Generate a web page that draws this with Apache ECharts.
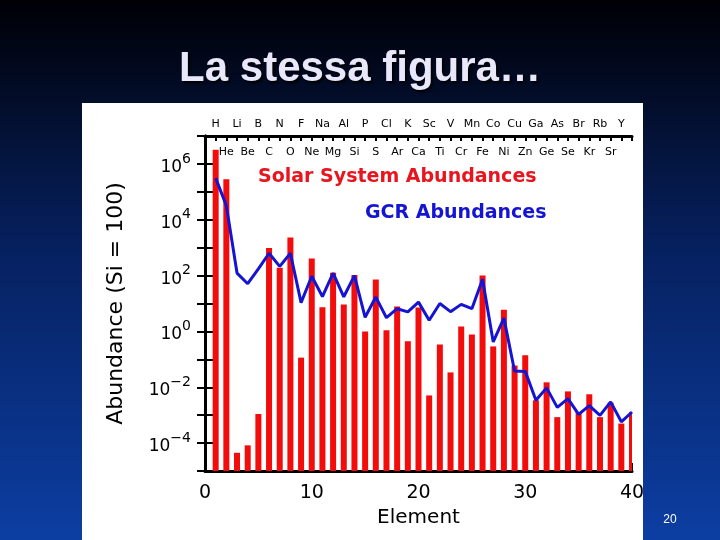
<!DOCTYPE html>
<html>
<head>
<meta charset="utf-8">
<script src="https://cdn.jsdelivr.net/npm/echarts@6/dist/echarts.min.js"></script>
<style>html,body{margin:0;padding:0;}#c{width:720px;height:540px;}</style>
</head>
<body>
<div id="c"></div>
<script>
// Atomic number Z
const elements = ['H','He','Li','Be','B','C','N','O','F','Ne','Na','Mg','Al','Si','P','S','Cl','Ar','K','Ca',
  'Sc','Ti','V','Cr','Mn','Fe','Co','Ni','Cu','Zn','Ga','Ge','As','Se','Br','Kr','Rb','Sr','Y'];
// Solar System abundances (Si = 100), Z = 1..40
const solarAbund = [3.2e6, 2.8e5, 4.5e-5, 8.3e-5, 1.1e-3, 980, 190, 2300, 0.115, 410,
  7.4, 126, 9.3, 105, 1.0, 72, 1.1, 7.8, 0.44, 7.2,
  5.1e-3, 0.34, 0.034, 1.5, 0.78, 100, 0.29, 6.0, 0.060, 0.14,
  3.4e-3, 0.015, 8.5e-4, 7.1e-3, 1.3e-3, 5.6e-3, 8.5e-4, 2.8e-3, 5.0e-4, 1.3e-3];
// Galactic cosmic ray abundances (Si = 100), Z = 1..40
const gcrAbund = [3.1e5, 3.2e4, 123, 51, 174, 630, 214, 630, 10.7, 95,
  17.8, 123, 17.4, 100, 3.2, 17, 3.1, 6.5, 5.0, 11.2,
  2.5, 10, 5.1, 9.3, 6.5, 74, 0.42, 3.0, 0.038, 0.037,
  3.4e-3, 9.5e-3, 1.9e-3, 3.9e-3, 1.07e-3, 2.2e-3, 9.8e-4, 3.0e-3, 5.8e-4, 1.3e-3];
const xTickLabels = ['0','10','20','30','40'];
const yMin = 1e-5, yMax = 1e7;

const solarData = solarAbund.map((v, i) => [i + 1, v]);
const gcrData = gcrAbund.map((v, i) => [i + 1, v]);

const FONT = 'DejaVu Sans';
const chart = echarts.init(document.getElementById('c'));

function yLabel(v) {
  const e = Math.round(Math.log10(v));
  if (e % 2 !== 0 || e < -4 || e > 6) return '';
  const es = e < 0 ? '\u2212' + Math.abs(e) : String(e);
  return '{b|10}{e|' + es + '}';
}

const option = {
  backgroundColor: {
    type: 'linear', x: 0, y: 0, x2: 0, y2: 1,
    colorStops: [
      { offset: 0, color: '#000005' },
      { offset: 0.45, color: '#06205e' },
      { offset: 1, color: '#0c3ea2' }
    ]
  },
  title: {
    text: 'La stessa figura\u2026',
    left: 'center',
    top: 43,
    textStyle: {
      color: '#e8e8fa', fontSize: 42, fontWeight: 'bold', fontFamily: 'Liberation Sans',
      textShadowColor: 'rgba(0,0,0,0.9)', textShadowBlur: 2, textShadowOffsetX: 2, textShadowOffsetY: 2
    }
  },
  graphic: [
    { type: 'rect', z: -100, shape: { x: 82, y: 103, width: 561, height: 437 }, style: { fill: '#ffffff' } },
    { type: 'text', x: 258, y: 177, style: { text: 'Solar System Abundances', fill: '#e8141e', font: 'bold 19px "DejaVu Sans"', textVerticalAlign: 'middle' } },
    { type: 'text', x: 365, y: 213, style: { text: 'GCR Abundances', fill: '#1414d2', font: 'bold 19px "DejaVu Sans"', textVerticalAlign: 'middle' } },
    { type: 'text', x: 670, y: 520, style: { text: '20', fill: '#ffffff', font: '12px "Liberation Sans"', textAlign: 'center', textVerticalAlign: 'middle' } }
  ],
  grid: { left: 205, right: 88, top: 136, bottom: 69, containLabel: false },
  xAxis: [
    {
      type: 'value', min: 0, max: 40, interval: 10, position: 'bottom',
      name: 'Element', nameLocation: 'middle', nameGap: 37,
      nameTextStyle: { fontSize: 20, color: '#000', fontFamily: FONT },
      axisLine: { lineStyle: { color: '#000', width: 3 } },
      axisTick: { inside: true, length: 8, lineStyle: { color: '#000', width: 2 } },
      minorTick: { show: true, splitNumber: 10, length: 5, lineStyle: { color: '#000', width: 2 } },
      splitLine: { show: false },
      axisLabel: { fontSize: 19, color: '#000', margin: 13, fontFamily: FONT,
        formatter: v => xTickLabels[Math.round(v / 10)] }
    },
    {
      type: 'value', min: 0, max: 40, interval: 1, position: 'top',
      axisLine: { lineStyle: { color: '#000', width: 3 } },
      axisTick: { inside: true, length: 5, lineStyle: { color: '#000', width: 2 } },
      splitLine: { show: false },
      axisLabel: { fontSize: 11, color: '#000', margin: 6, fontFamily: FONT,
        formatter: v => (v % 2 === 1 && elements[v - 1] ? elements[v - 1] : '') }
    },
    {
      type: 'value', min: 0, max: 40, interval: 1, position: 'top',
      axisLine: { show: false }, axisTick: { show: false }, splitLine: { show: false },
      axisLabel: { inside: true, fontSize: 11, color: '#000', margin: 11, fontFamily: FONT,
        formatter: v => (v % 2 === 0 && v > 0 && elements[v - 1] ? elements[v - 1] : '') }
    }
  ],
  yAxis: [
    {
      type: 'log', logBase: 10, min: yMin, max: yMax, interval: 1, splitNumber: 12, position: 'left',
      name: 'Abundance (Si = 100)', nameLocation: 'middle', nameGap: 78, nameRotate: 90,
      nameTextStyle: { fontSize: 22, color: '#000', fontFamily: FONT },
      axisLine: { show: true, lineStyle: { color: '#000', width: 3 } },
      axisTick: { show: true, inside: true, length: 8, lineStyle: { color: '#000', width: 2 } },
      splitLine: { show: false },
      axisLabel: {
        margin: 14, color: '#000', formatter: yLabel,
        rich: {
          b: { fontSize: 17, fontFamily: FONT, color: '#000', lineHeight: 24, verticalAlign: 'bottom' },
          e: { fontSize: 14, fontFamily: FONT, color: '#000', lineHeight: 14, verticalAlign: 'top' }
        }
      }
    },
    {
      type: 'log', logBase: 10, min: yMin, max: yMax, interval: 1, splitNumber: 12, position: 'right',
      axisLine: { show: true, lineStyle: { color: '#000', width: 3 } },
      axisTick: { show: true, inside: true, length: 8, lineStyle: { color: '#000', width: 2 } },
      splitLine: { show: false },
      axisLabel: { show: false }
    }
  ],
  series: [
    {
      name: 'Solar System Abundances',
      type: 'custom',
      xAxisIndex: 0, yAxisIndex: 0,
      clip: true,
      renderItem: function (params, api) {
        const z = api.value(0), v = api.value(1);
        const top = api.coord([z, v]);
        const bot = api.coord([z, yMin]);
        return {
          type: 'rect',
          shape: { x: top[0] - 3, y: top[1], width: 6, height: bot[1] - top[1] },
          style: { fill: '#f20c0c' }
        };
      },
      encode: { x: 0, y: 1 },
      data: solarData,
      z: 2
    },
    {
      name: 'GCR Abundances',
      type: 'line',
      xAxisIndex: 0, yAxisIndex: 0,
      data: gcrData,
      showSymbol: false,
      symbol: 'none',
      lineStyle: { color: '#1414d2', width: 3 },
      z: 3
    }
  ]
};
chart.setOption(option);
</script>
</body>
</html>
